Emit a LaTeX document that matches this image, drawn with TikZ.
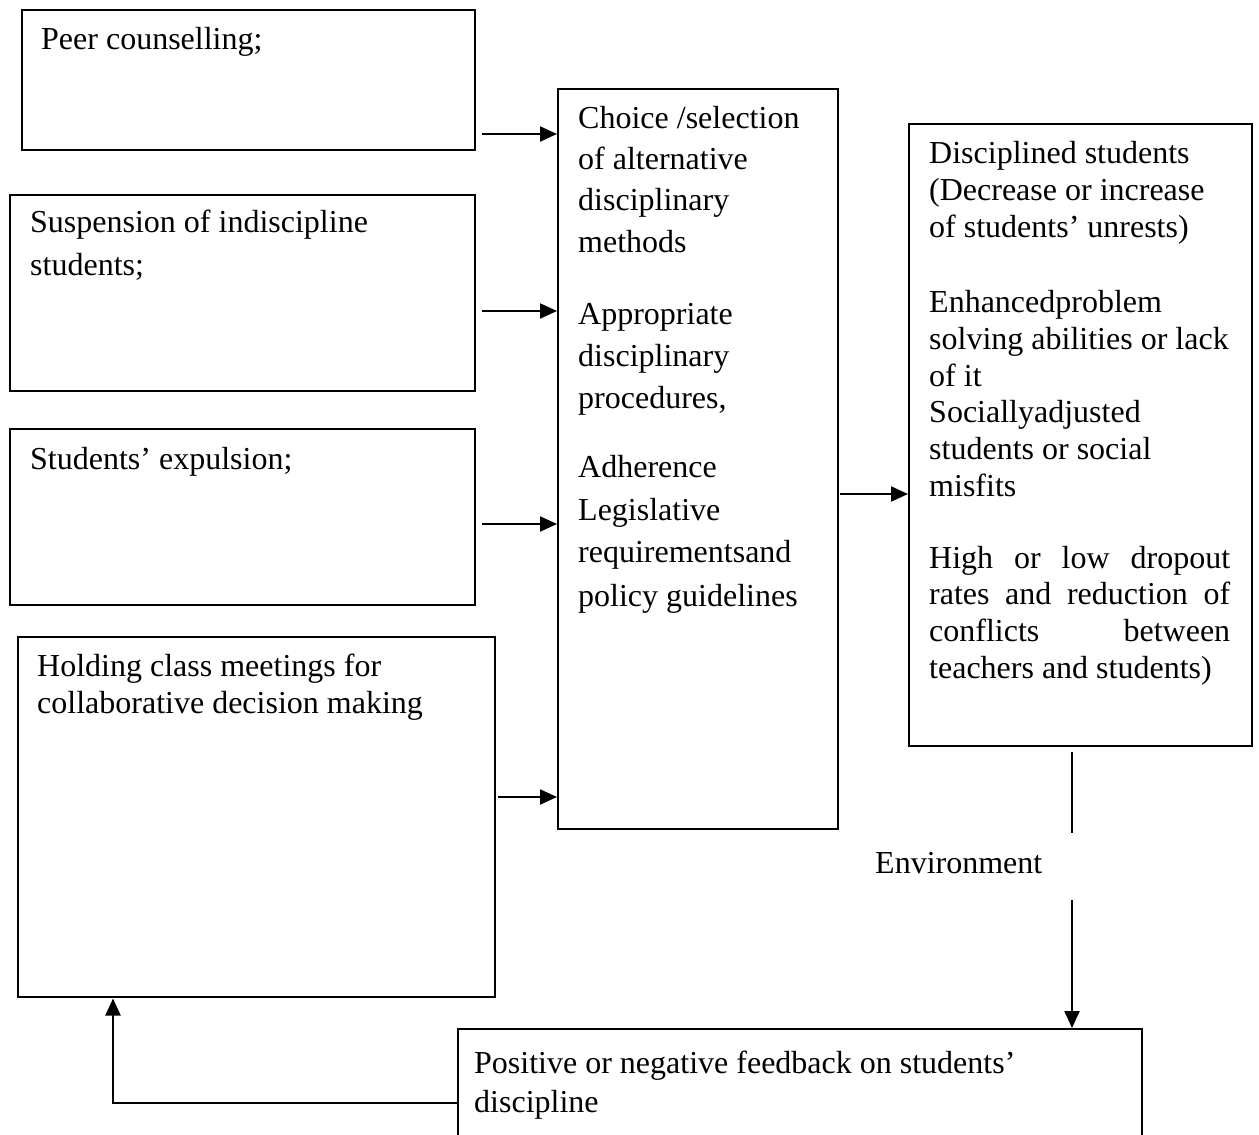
\documentclass[tikz,border=0pt]{standalone}
\usepackage{fontspec}
\setmainfont{Liberation Serif}
\usetikzlibrary{arrows.meta,calc}
\begin{document}
\begin{tikzpicture}[x=1pt,y=-1pt,
  box/.style={draw, line width=1.5pt, anchor=north west, inner sep=0pt},
  txt/.style={anchor=base west, inner sep=0pt, font=\fontsize{32}{40}\selectfont},
  arr/.style={line width=2.2pt, -{Triangle[length=17pt,width=15pt]}},
  ln/.style={line width=2.2pt}]
\useasboundingbox (0,0) rectangle (1259,1135);
% boxes
\node[box, minimum width=453pt, minimum height=140pt] (b1) at (21,9) {};
\node[box, minimum width=465pt, minimum height=196pt] (b2) at (9,194) {};
\node[box, minimum width=465pt, minimum height=176pt] (b3) at (9,428) {};
\node[box, minimum width=477pt, minimum height=360pt] (b4) at (17,636) {};
\node[box, minimum width=280pt, minimum height=740pt] (mid) at (557,88) {};
\node[box, minimum width=343pt, minimum height=622pt] (res) at (908,123) {};
\node[box, minimum width=684pt, minimum height=120pt] (fb) at (457,1028) {};
% texts
\node[txt] (t1) at (41,49) {Peer counselling;};
\node[txt] (t2a) at (30,232) {Suspension of indiscipline};
\node[txt] (t2b) at (30,275) {students;};
\node[txt] (t3) at (30,469) {Students’ expulsion;};
\node[txt] (t4a) at (37,676) {Holding class meetings for};
\node[txt] (t4b) at (37,713) {collaborative decision making};
\node[txt] (m1) at (578,128) {Choice /selection};
\node[txt] (m2) at (578,169) {of alternative};
\node[txt] (m3) at (578,210) {disciplinary};
\node[txt] (m4) at (578,252) {methods};
\node[txt] (m5) at (578,324) {Appropriate};
\node[txt] (m6) at (578,366) {disciplinary};
\node[txt] (m7) at (578,408) {procedures,};
\node[txt] (m8) at (578,477) {Adherence};
\node[txt] (m9) at (578,520) {Legislative};
\node[txt] (m10) at (578,562) {requirementsand};
\node[txt] (m11) at (578,606) {policy guidelines};
\node[txt] (r1) at (929,163) {Disciplined students};
\node[txt] (r2) at (929,200) {(Decrease or increase};
\node[txt] (r3) at (929,237) {of students’ unrests)};
\node[txt] (r4) at (929,312) {Enhancedproblem};
\node[txt] (r5) at (929,349) {solving abilities or lack};
\node[txt] (r6) at (929,386) {of it};
\node[txt] (r7) at (929,422) {Sociallyadjusted};
\node[txt] (r8) at (929,459) {students or social};
\node[txt] (r9) at (929,496) {misfits};
\node[txt] (r10) at (929,568) {\makebox[301pt][s]{High or low dropout}};
\node[txt] (r11) at (929,604) {\makebox[301pt][s]{rates and reduction of}};
\node[txt] (r12) at (929,641) {\makebox[301pt][s]{conflicts between}};
\node[txt] (r13) at (929,678) {teachers and students)};
\node[txt] (env) at (875,873) {Environment};
\node[txt] (f1) at (474,1073) {Positive or negative feedback on students’};
\node[txt] (f2) at (474,1112) {discipline};
% connectors
\draw[arr] ($(b1.east|-0,134)+(6,0)$) -- (mid.west|-0,134);
\draw[arr] ($(b2.east|-0,311)+(6,0)$) -- (mid.west|-0,311);
\draw[arr] ($(b3.east|-0,524)+(6,0)$) -- (mid.west|-0,524);
\draw[arr] ($(b4.east|-0,797)+(2,0)$) -- (mid.west|-0,797);
\draw[arr] ($(mid.east|-0,494)+(1,0)$) -- (res.west|-0,494);
\coordinate (envtop) at (1072,833);
\coordinate (envbot) at (1072,900);
\draw[ln] ($(res.south-|envtop)+(0,5)$) -- (envtop);
\draw[arr] (envbot) -- (fb.north-|envbot);
\draw[arr] (fb.west|-0,1103) -| ($(b4.south-|113,0)+(0,1)$);
\end{tikzpicture}
\end{document}
